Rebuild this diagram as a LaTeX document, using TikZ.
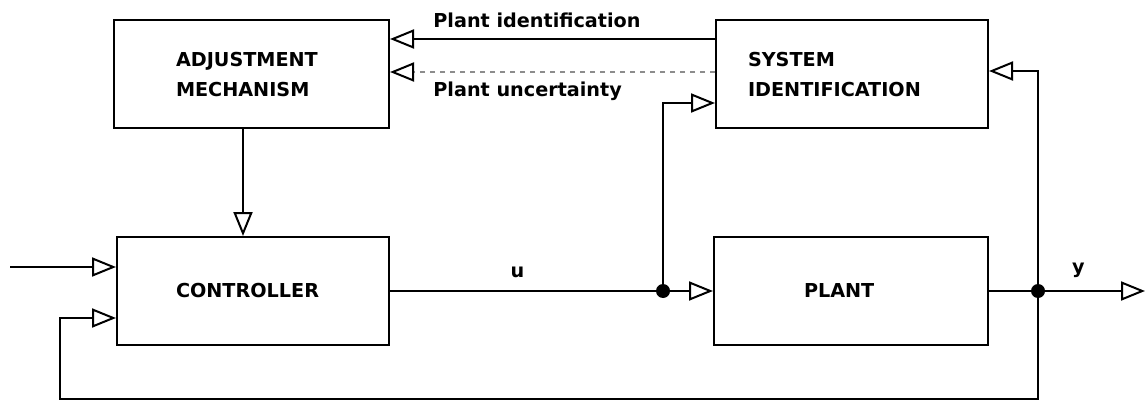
\documentclass[tikz,border=0pt]{standalone}
\usepackage{fontspec}
\setmainfont{DejaVu Sans}
\usetikzlibrary{arrows.meta}
\begin{document}
\begin{tikzpicture}[x=0.5pt, y=-0.5pt,
  every node/.style={font=\fontsize{9.6}{15}\selectfont\bfseries},
  block/.style={draw, line width=1pt, align=left, minimum height=54pt, inner ysep=0pt},
  dot/.style={circle, fill, inner sep=0pt, minimum size=7pt},
  lbl/.style={inner sep=0pt},
  wire/.style={line width=1pt},
  arrow/.style={-{Triangle[open, length=12pt, width=9.5pt]}, line width=1pt},
  uncert/.style={-{Triangle[open, length=12pt, width=9.5pt, color=black]}, line width=1pt, draw=black!45, dash pattern=on 2.5pt off 2.5pt}
]
\useasboundingbox (0,0) rectangle (1146,401);

\node[block, text width=75.5pt, inner xsep=31pt] (adj) at (251.5,74.5) {ADJUSTMENT\\MECHANISM};
\node[block, text width=104pt, inner xsep=16pt] (sysid) at (852,74.5) {SYSTEM\\IDENTIFICATION};
\node[block, text width=77pt, inner xsep=29.5pt] (ctrl) at (253,291) {CONTROLLER};
\node[block, text width=47pt, inner xsep=45pt] (plant) at (851,291) {PLANT};
\node[dot] (ju) at (663,291) {};
\node[dot] (jy) at (1038,291) {};
\coordinate (in) at (10,267);
\coordinate (out) at (1145,291);
\coordinate (fb) at (60,399);
\node[lbl, anchor=base west] (pidlbl) at (433,28) {Plant identification};
\node[lbl, anchor=base west] (punclbl) at (433,97) {Plant uncertainty};

\draw[arrow] ([yshift=17.75pt]sysid.west) -- ([yshift=17.75pt]adj.east);
\draw[uncert] ([yshift=1.25pt]sysid.west) -- ([yshift=1.25pt]adj.east);
\draw[arrow] ([xshift=-4.25pt]adj.south) -- ([xshift=-4.25pt]adj.south |- ctrl.north);
\draw[arrow] (in) -- (in -| ctrl.west);
\draw[wire] (ctrl.east) -- node[above=3pt, pos=0.48] (ulbl) {u} (ju);
\draw[arrow] (ju) -- (plant.west);
\draw[arrow] (ju) |- ([yshift=-14.25pt]sysid.west);
\draw[wire] (plant.east) -- (jy);
\draw[arrow] (jy) -- node[above=3pt, pos=0.33] (ylbl) {y} (out);
\draw[arrow] (jy) |- ([yshift=1.75pt]sysid.east);
\draw[arrow] (jy) |- (fb) |- ([yshift=-13.5pt]ctrl.west);
\end{tikzpicture}
\end{document}
